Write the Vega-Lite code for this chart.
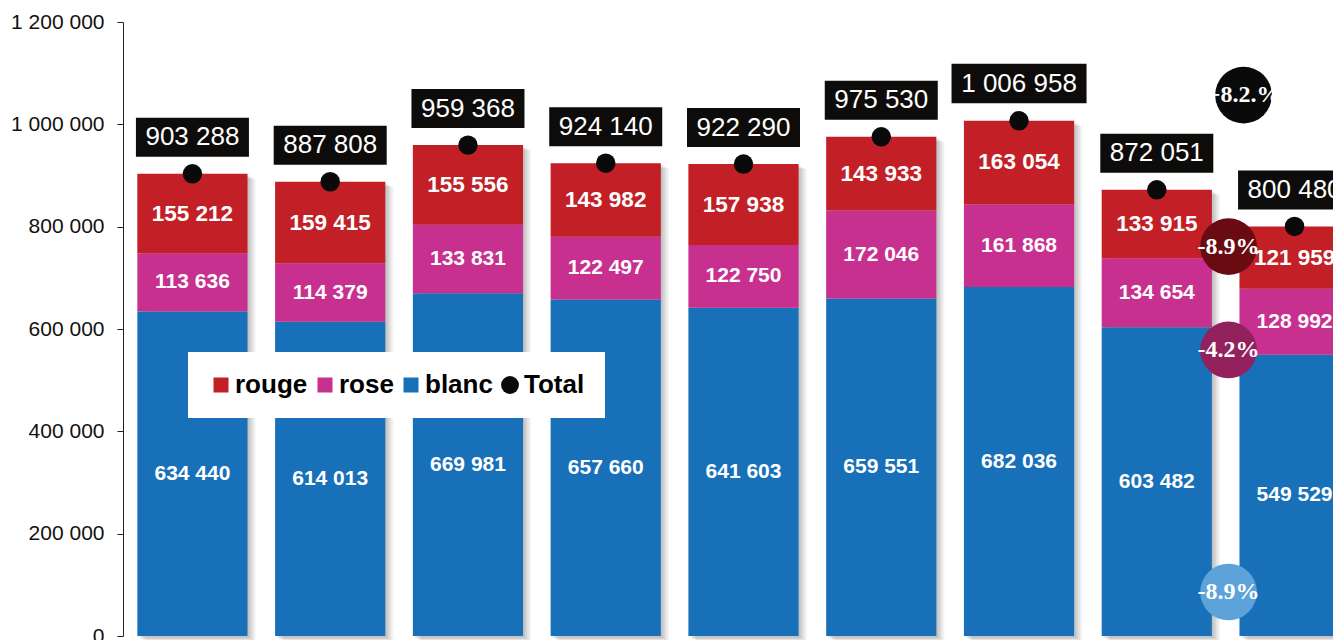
{
  "$schema": "https://vega.github.io/schema/vega-lite/v6.json",
  "width": 1210,
  "height": 614,
  "autosize": {"type": "none"},
  "padding": {"left": 123, "top": 22, "right": 0, "bottom": 4},
  "background": "white",
  "config": {
    "view": {"stroke": null},
    "font": "Liberation Sans",
    "locale": {"number": {"decimal": ",", "thousands": " ", "grouping": [3], "currency": ["", " €"]}}
  },
  "datasets": {
    "segments": [
      {"annee": "2014", "type": "blanc", "volume": 634440},
      {"annee": "2014", "type": "rose", "volume": 113636},
      {"annee": "2014", "type": "rouge", "volume": 155212},
      {"annee": "2015", "type": "blanc", "volume": 614013},
      {"annee": "2015", "type": "rose", "volume": 114379},
      {"annee": "2015", "type": "rouge", "volume": 159415},
      {"annee": "2016", "type": "blanc", "volume": 669981},
      {"annee": "2016", "type": "rose", "volume": 133831},
      {"annee": "2016", "type": "rouge", "volume": 155556},
      {"annee": "2017", "type": "blanc", "volume": 657660},
      {"annee": "2017", "type": "rose", "volume": 122497},
      {"annee": "2017", "type": "rouge", "volume": 143982},
      {"annee": "2018", "type": "blanc", "volume": 641603},
      {"annee": "2018", "type": "rose", "volume": 122750},
      {"annee": "2018", "type": "rouge", "volume": 157938},
      {"annee": "2019", "type": "blanc", "volume": 659551},
      {"annee": "2019", "type": "rose", "volume": 172046},
      {"annee": "2019", "type": "rouge", "volume": 143933},
      {"annee": "2020", "type": "blanc", "volume": 682036},
      {"annee": "2020", "type": "rose", "volume": 161868},
      {"annee": "2020", "type": "rouge", "volume": 163054},
      {"annee": "2021", "type": "blanc", "volume": 603482},
      {"annee": "2021", "type": "rose", "volume": 134654},
      {"annee": "2021", "type": "rouge", "volume": 133915},
      {"annee": "2022", "type": "blanc", "volume": 549529},
      {"annee": "2022", "type": "rose", "volume": 128992},
      {"annee": "2022", "type": "rouge", "volume": 121959}
    ],
    "totals": [
      {"annee": "2014", "total": 903288},
      {"annee": "2015", "total": 887808},
      {"annee": "2016", "total": 959368},
      {"annee": "2017", "total": 924140},
      {"annee": "2018", "total": 922290},
      {"annee": "2019", "total": 975530},
      {"annee": "2020", "total": 1006958},
      {"annee": "2021", "total": 872051},
      {"annee": "2022", "total": 800480}
    ],
    "variations": [
      {"annee": "2022", "serie": "total", "label": "+8.2.%", "position": 1057000},
      {"annee": "2022", "serie": "rouge", "label": "-8.9%", "position": 761000},
      {"annee": "2022", "serie": "rose", "label": "-4.2%", "position": 559000},
      {"annee": "2022", "serie": "blanc", "label": "-8.9%", "position": 86000}
    ]
  },
  "encoding": {
    "x": {
      "field": "annee",
      "type": "nominal",
      "axis": null,
      "scale": {"range": [0, 1241], "paddingInner": 0.2, "paddingOuter": 0.104}
    }
  },
  "layer": [
    {
      "data": {"name": "totals"},
      "mark": {"type": "bar", "color": "black", "opacity": 0.07, "xOffset": 2, "yOffset": 2, "y2Offset": 2},
      "encoding": {"y": {
        "field": "total", "type": "quantitative", "title": null,
        "scale": {"domain": [0, 1200000]},
        "axis": {
          "values": [0, 200000, 400000, 600000, 800000, 1000000, 1200000],
          "format": ",d",
          "grid": false,
          "domainColor": "#222222",
          "tickColor": "#222222",
          "tickSize": 6,
          "labelFontSize": 21,
          "labelPadding": 13,
          "labelColor": "#111111",
          "labelFont": "Liberation Sans"
        }
      }}
    },
    {
      "data": {"name": "totals"},
      "mark": {"type": "bar", "color": "black", "opacity": 0.07, "xOffset": 4, "yOffset": 3, "y2Offset": 3},
      "encoding": {"y": {"field": "total", "type": "quantitative", "title": null, "scale": {"domain": [0, 1200000]}}}
    },
    {
      "data": {"name": "totals"},
      "mark": {"type": "bar", "color": "black", "opacity": 0.06, "xOffset": 6, "yOffset": 4, "y2Offset": 4},
      "encoding": {"y": {"field": "total", "type": "quantitative", "title": null, "scale": {"domain": [0, 1200000]}}}
    },
    {
      "data": {"name": "totals"},
      "mark": {"type": "bar", "color": "black", "opacity": 0.05, "xOffset": 8, "yOffset": 5, "y2Offset": 5},
      "encoding": {"y": {"field": "total", "type": "quantitative", "title": null, "scale": {"domain": [0, 1200000]}}}
    },
    {
      "data": {"name": "segments"},
      "mark": {"type": "bar"},
      "encoding": {
        "y": {"field": "volume", "type": "quantitative", "stack": "zero", "title": null, "scale": {"domain": [0, 1200000]}},
        "color": {
          "field": "type",
          "type": "nominal",
          "scale": {"domain": ["rouge", "rose", "blanc", "Total"], "range": ["#C21F27", "#C8308F", "#1870B9", "#0a0a0a"]},
          "legend": {
            "title": null,
            "orient": "none",
            "legendX": 65,
            "legendY": 330,
            "direction": "horizontal",
            "fillColor": "white",
            "padding": 20,
            "columnPadding": 4,
            "labelOffset": 1,
            "labelFontSize": 26,
            "labelFontWeight": "bold",
            "labelColor": "black",
            "labelFont": "Liberation Sans",
            "symbolType": "square",
            "symbolSize": 225,
            "symbolStrokeWidth": 0,
            "symbolOpacity": 1,
            "encode": {
              "symbols": {
                "update": {
                  "shape": {"signal": "datum.value === 'Total' ? 'circle' : 'square'"},
                  "size": {"signal": "datum.value === 'Total' ? 320 : 225"}
                }
              }
            }
          }
        },
        "order": {"field": "type", "sort": "ascending"}
      }
    },
    {
      "data": {"name": "segments"},
      "mark": {"type": "text", "color": "white", "fontWeight": "bold", "baseline": "middle", "align": "center", "font": "Liberation Sans"},
      "encoding": {
        "y": {"field": "volume", "type": "quantitative", "stack": "zero", "bandPosition": 0.5, "title": null, "scale": {"domain": [0, 1200000]}},
        "detail": {"field": "type"},
        "order": {"field": "type", "sort": "ascending"},
        "text": {"field": "volume", "type": "quantitative", "format": ","},
        "size": {"condition": {"test": "datum.type === 'rouge'", "value": 22.5}, "value": 21}
      }
    },
    {
      "data": {"name": "totals"},
      "mark": {"type": "point", "filled": true, "shape": "circle", "size": 380, "opacity": 1, "strokeWidth": 0},
      "encoding": {
        "y": {"field": "total", "type": "quantitative", "title": null, "scale": {"domain": [0, 1200000]}},
        "color": {"datum": "Total", "type": "nominal"}
      }
    },
    {
      "data": {"name": "totals"},
      "mark": {"type": "point", "filled": true, "size": 10000, "opacity": 1, "strokeWidth": 0, "color": "#0e0c0a"},
      "encoding": {
        "y": {"field": "total", "type": "quantitative", "title": null, "scale": {"domain": [0, 1200000]}},
        "shape": {
          "condition": {"test": "datum.total >= 1000000", "value": "M-1.35,-1.14L1.35,-1.14L1.35,-0.35L-1.35,-0.35Z"},
          "value": "M-1.13,-1.12L1.13,-1.12L1.13,-0.34L-1.13,-0.34Z"
        }
      }
    },
    {
      "data": {"name": "totals"},
      "mark": {"type": "text", "color": "white", "fontSize": 26, "baseline": "middle", "align": "center", "dy": -36.5, "font": "Liberation Sans"},
      "encoding": {
        "y": {"field": "total", "type": "quantitative", "title": null, "scale": {"domain": [0, 1200000]}},
        "text": {"field": "total", "type": "quantitative", "format": ","}
      }
    },
    {
      "data": {"name": "variations"},
      "transform": [{"filter": "datum.serie !== 'total'"}],
      "mark": {"type": "point", "filled": true, "shape": "circle", "size": 3217, "opacity": 1, "strokeWidth": 0, "xOffset": -66},
      "encoding": {
        "y": {"field": "position", "type": "quantitative", "title": null, "scale": {"domain": [0, 1200000]}},
        "fill": {
          "field": "serie",
          "type": "nominal",
          "scale": {"domain": ["total", "rouge", "rose", "blanc"], "range": ["#0a0a0a", "#6A0B12", "#93215E", "#5DA2D8"]},
          "legend": null
        }
      }
    },
    {
      "data": {"name": "variations"},
      "transform": [{"filter": "datum.serie !== 'total'"}],
      "mark": {"type": "text", "color": "white", "fontSize": 24, "fontWeight": "bold", "font": "Liberation Serif", "baseline": "middle", "align": "center", "xOffset": -66},
      "encoding": {
        "y": {"field": "position", "type": "quantitative", "title": null, "scale": {"domain": [0, 1200000]}},
        "text": {"field": "label", "type": "nominal"}
      }
    },
    {
      "data": {"name": "variations"},
      "transform": [{"filter": "datum.serie === 'total'"}],
      "mark": {"type": "point", "filled": true, "shape": "circle", "size": 3217, "opacity": 1, "strokeWidth": 0, "xOffset": -51},
      "encoding": {
        "y": {"field": "position", "type": "quantitative", "title": null, "scale": {"domain": [0, 1200000]}},
        "fill": {
          "field": "serie",
          "type": "nominal",
          "scale": {"domain": ["total", "rouge", "rose", "blanc"], "range": ["#0a0a0a", "#6A0B12", "#93215E", "#5DA2D8"]},
          "legend": null
        }
      }
    },
    {
      "data": {"name": "variations"},
      "transform": [{"filter": "datum.serie === 'total'"}],
      "mark": {"type": "text", "color": "white", "fontSize": 24, "fontWeight": "bold", "font": "Liberation Serif", "baseline": "middle", "align": "center", "xOffset": -51},
      "encoding": {
        "y": {"field": "position", "type": "quantitative", "title": null, "scale": {"domain": [0, 1200000]}},
        "text": {"field": "label", "type": "nominal"}
      }
    }
  ]
}
